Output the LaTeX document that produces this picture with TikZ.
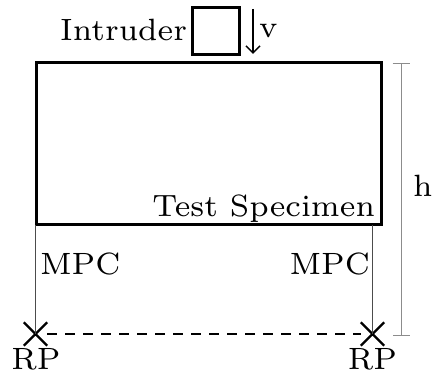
\documentclass[tikz,border=0pt]{standalone}
\usepackage{graphicx}
\usetikzlibrary{arrows.meta,shapes.misc}
\newcommand\mytxt[1]{\scalebox{4.4}{\fontsize{7}{8}\selectfont #1}}
\tikzset{
  lbl/.style={inner sep=0pt, outer sep=0pt},
  thickbox/.style={draw=black, line width=3pt, inner sep=0pt, outer sep=0pt},
  mpc/.style={draw=black!70, line width=0.9pt},
  rpmark/.style={cross out, draw=black, line width=2.4pt, minimum size=21pt, inner sep=0pt},
  dim/.style={draw=black!45, line width=1pt, {Bar[width=17pt]}-{Bar[width=17pt]}},
}
\begin{document}
\begin{tikzpicture}[x=1pt,y=-1pt]
\useasboundingbox (0,0) rectangle (432,377);
% specimen
\node[thickbox, minimum width=345pt, minimum height=162pt] (spec) at (208.5,144) {};
\node[lbl, anchor=base east] (tslbl) at (375,217) {\mytxt{Test Specimen}};
% intruder
\node[thickbox, minimum width=47pt, minimum height=47pt] (intr) at (215.5,31.5) {};
\node[lbl, anchor=base east] (intrlbl) at (187,41) {\mytxt{Intruder}};
\coordinate (vtop) at (253,9);
\coordinate (vbot) at (253,54);
\draw[line width=1.5pt, -{Straight Barb[length=7pt,width=14pt]}] (vtop) -- (vbot);
\node[lbl, anchor=base west] (vlbl) at (259,38) {\mytxt{v}};
% reference points
\node[rpmark] (rpL) at (35.5,334) {};
\node[rpmark] (rpR) at (372.5,334) {};
\draw[mpc] (rpL |- spec.south) -- (rpL.center);
\draw[mpc] (rpR |- spec.south) -- (rpR.center);
\draw[line width=2.6pt, dash pattern=on 10pt off 8pt] (rpL.east) -- (rpR.west);
\node[lbl, anchor=base west] (mpcL) at (40,275) {\mytxt{MPC}};
\node[lbl, anchor=base east] (mpcR) at (370,275) {\mytxt{MPC}};
\node[lbl, anchor=base] (rpLl) at (36,370) {\mytxt{RP}};
\node[lbl, anchor=base] (rpRl) at (372.5,370) {\mytxt{RP}};
% dimension h
\coordinate (htop) at (401,63);
\coordinate (hbot) at (401,336);
\draw[dim] (htop) -- (hbot);
\node[lbl, anchor=base west] (hlbl) at (413,197) {\mytxt{h}};
\end{tikzpicture}
\end{document}
